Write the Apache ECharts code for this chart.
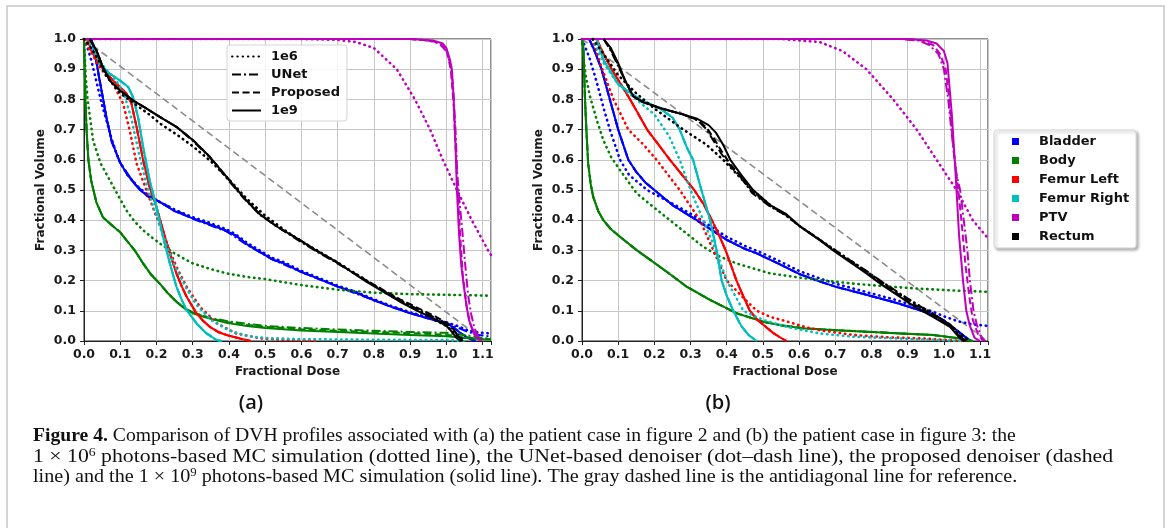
<!DOCTYPE html>
<html><head><meta charset="utf-8">
<script src="https://cdn.jsdelivr.net/npm/echarts@6/dist/echarts.min.js"></script>
<style>html,body{margin:0;padding:0;background:#fff}#c{width:1167px;height:528px}</style>
</head><body><div id="c"></div>
<script>
// ---------- tick labels ----------
const xTickLabels = ['0.0','0.1','0.2','0.3','0.4','0.5','0.6','0.7','0.8','0.9','1.0','1.1'];
const yTickLabels = ['0.0','0.1','0.2','0.3','0.4','0.5','0.6','0.7','0.8','0.9','1.0'];
const organs = ['Bladder','Body','Femur Left','Femur Right','PTV','Rectum'];
const organColors = ['#0000ff','#008000','#ff0000','#00bfbf','#bf00bf','#000000'];
const methods = ['1e6','UNet','Proposed','1e9'];
const panelLabels = ['(a)','(b)'];

// ---------- panel (a) ----------
const a_bladder_1e6 = [[0,1],[0.01,0.97],[0.02,0.93],[0.03,0.88],[0.04,0.83],[0.05,0.78],[0.062,0.73],[0.076,0.67],[0.09,0.62],[0.1,0.59],[0.12,0.55],[0.15,0.51],[0.18,0.48],[0.21,0.46],[0.25,0.435],[0.3,0.41],[0.35,0.39],[0.393,0.37],[0.42,0.352],[0.45,0.325],[0.485,0.3],[0.52,0.275],[0.55,0.262],[0.6,0.232],[0.65,0.208],[0.7,0.183],[0.75,0.163],[0.8,0.138],[0.85,0.115],[0.9,0.095],[0.95,0.078],[1.0,0.062],[1.03,0.05],[1.06,0.035],[1.09,0.028],[1.123,0.025]];
const a_bladder_1e9 = [[0.02,1.0],[0.025,0.98],[0.035,0.92],[0.043,0.865],[0.05,0.82],[0.062,0.74],[0.076,0.665],[0.09,0.62],[0.1,0.59],[0.12,0.55],[0.14,0.52],[0.155,0.5],[0.175,0.48],[0.19,0.472],[0.21,0.46],[0.25,0.43],[0.3,0.406],[0.35,0.385],[0.393,0.365],[0.42,0.348],[0.45,0.32],[0.485,0.295],[0.52,0.27],[0.55,0.258],[0.6,0.228],[0.65,0.205],[0.7,0.18],[0.75,0.16],[0.8,0.135],[0.85,0.112],[0.9,0.092],[0.95,0.074],[1.0,0.058],[1.02,0.045],[1.04,0.025],[1.06,0.01],[1.08,0.0]];
const a_bladder_unet = [[0.02,1.0],[0.03,0.95],[0.043,0.86],[0.062,0.74],[0.076,0.66],[0.1,0.59],[0.14,0.52],[0.175,0.48],[0.21,0.46],[0.3,0.405],[0.393,0.363],[0.45,0.318],[0.52,0.27],[0.6,0.228],[0.7,0.18],[0.8,0.135],[0.9,0.093],[1.0,0.06],[1.03,0.045],[1.06,0.03],[1.09,0.02],[1.123,0.015]];
const a_bladder_prop = a_bladder_1e9;

const a_body_1e6 = [[0,1],[0.005,0.87],[0.01,0.8],[0.025,0.665],[0.045,0.59],[0.071,0.533],[0.095,0.48],[0.117,0.433],[0.14,0.395],[0.163,0.367],[0.185,0.345],[0.209,0.323],[0.25,0.29],[0.3,0.257],[0.35,0.238],[0.393,0.224],[0.45,0.212],[0.5,0.205],[0.6,0.185],[0.7,0.17],[0.8,0.16],[0.9,0.155],[1.0,0.153],[1.123,0.15]];
const a_body_1e9 = [[0,1],[0.002,0.9],[0.004,0.8],[0.007,0.7],[0.012,0.6],[0.02,0.53],[0.034,0.46],[0.052,0.41],[0.08,0.38],[0.1,0.36],[0.117,0.334],[0.14,0.3],[0.163,0.257],[0.185,0.22],[0.209,0.19],[0.23,0.16],[0.255,0.13],[0.28,0.105],[0.3,0.092],[0.33,0.08],[0.36,0.07],[0.393,0.06],[0.45,0.05],[0.5,0.043],[0.6,0.035],[0.7,0.03],[0.8,0.025],[0.9,0.02],[1.0,0.016],[1.05,0.01],[1.1,0.006],[1.123,0.005]];
const a_body_unet = [[0,1],[0.002,0.9],[0.004,0.8],[0.007,0.7],[0.012,0.6],[0.02,0.53],[0.034,0.46],[0.052,0.41],[0.08,0.38],[0.1,0.36],[0.117,0.334],[0.14,0.3],[0.163,0.257],[0.185,0.22],[0.209,0.19],[0.23,0.16],[0.255,0.13],[0.28,0.107],[0.3,0.095],[0.33,0.083],[0.36,0.074],[0.393,0.066],[0.45,0.057],[0.5,0.05],[0.6,0.043],[0.7,0.038],[0.8,0.034],[0.9,0.03],[1.0,0.027],[1.05,0.02],[1.1,0.01],[1.123,0.008]];
const a_body_prop = [[0,1],[0.002,0.9],[0.004,0.8],[0.007,0.7],[0.012,0.6],[0.02,0.53],[0.034,0.46],[0.052,0.41],[0.08,0.38],[0.1,0.36],[0.117,0.334],[0.14,0.3],[0.163,0.257],[0.185,0.22],[0.209,0.19],[0.23,0.16],[0.255,0.13],[0.28,0.106],[0.3,0.094],[0.33,0.082],[0.36,0.072],[0.393,0.063],[0.45,0.053],[0.5,0.047],[0.6,0.039],[0.7,0.034],[0.8,0.03],[0.9,0.026],[1.0,0.021],[1.05,0.013],[1.1,0.007],[1.123,0.006]];

const a_femL_1e6 = [[0,1],[0.011,0.974],[0.043,0.907],[0.08,0.852],[0.108,0.786],[0.126,0.698],[0.145,0.588],[0.172,0.5],[0.2,0.411],[0.228,0.323],[0.255,0.246],[0.283,0.18],[0.32,0.113],[0.366,0.059],[0.42,0.025],[0.485,0.009],[0.55,0.004],[0.65,0.0]];
const a_femL_1e9 = [[0.01,1.0],[0.02,0.963],[0.035,0.93],[0.052,0.902],[0.08,0.863],[0.1,0.84],[0.117,0.82],[0.131,0.786],[0.145,0.709],[0.163,0.6],[0.181,0.51],[0.2,0.444],[0.218,0.367],[0.237,0.29],[0.255,0.224],[0.27,0.18],[0.283,0.147],[0.31,0.092],[0.33,0.065],[0.347,0.047],[0.37,0.03],[0.393,0.02],[0.43,0.008],[0.46,0.0]];
const a_femL_unet = a_femL_1e9;
const a_femL_prop = a_femL_1e9;

const a_femR_1e6 = [[0.01,1.0],[0.03,0.95],[0.06,0.9],[0.09,0.86],[0.11,0.82],[0.13,0.74],[0.15,0.63],[0.17,0.53],[0.19,0.45],[0.21,0.38],[0.23,0.31],[0.25,0.25],[0.28,0.18],[0.31,0.12],[0.35,0.07],[0.4,0.035],[0.45,0.017],[0.5,0.01],[0.6,0.006],[0.8,0.004],[1.0,0.003],[1.05,0.0]];
const a_femR_1e9 = [[0.015,1.0],[0.025,0.985],[0.043,0.918],[0.071,0.885],[0.099,0.863],[0.122,0.841],[0.135,0.808],[0.149,0.742],[0.163,0.643],[0.181,0.533],[0.2,0.444],[0.218,0.345],[0.237,0.257],[0.255,0.18],[0.27,0.135],[0.283,0.103],[0.31,0.059],[0.338,0.025],[0.366,0.003],[0.38,0.0]];
const a_femR_unet = a_femR_1e9;
const a_femR_prop = a_femR_1e9;

const a_ptv_1e6 = [[0,1],[0.6,1.0],[0.7,0.997],[0.75,0.99],[0.8,0.97],[0.863,0.9],[0.913,0.8],[0.955,0.7],[0.99,0.6],[1.029,0.5],[1.07,0.4],[1.115,0.3],[1.123,0.285]];
const a_ptv_1e9 = [[0,1],[0.9,1.0],[0.963,0.995],[0.99,0.985],[1.0,0.97],[1.01,0.93],[1.015,0.9],[1.02,0.8],[1.025,0.65],[1.029,0.5],[1.035,0.35],[1.041,0.25],[1.046,0.2],[1.055,0.12],[1.062,0.07],[1.07,0.045],[1.08,0.02],[1.093,0.0]];
const a_ptv_unet = [[0,1],[0.9,1.0],[0.95,0.995],[0.98,0.985],[1.0,0.96],[1.01,0.92],[1.018,0.85],[1.025,0.7],[1.03,0.55],[1.037,0.45],[1.045,0.35],[1.052,0.25],[1.06,0.15],[1.068,0.09],[1.078,0.04],[1.09,0.01],[1.1,0.0]];
const a_ptv_prop = [[0,1],[0.9,1.0],[0.955,0.995],[0.985,0.985],[1.0,0.965],[1.012,0.9],[1.02,0.78],[1.027,0.6],[1.031,0.5],[1.038,0.35],[1.045,0.22],[1.055,0.12],[1.065,0.06],[1.075,0.025],[1.09,0.0]];

const a_rect_1e6 = [[0,1],[0.02,0.97],[0.04,0.93],[0.06,0.88],[0.08,0.85],[0.1,0.82],[0.14,0.785],[0.18,0.75],[0.21,0.72],[0.26,0.68],[0.3,0.645],[0.35,0.595],[0.4,0.535],[0.45,0.47],[0.5,0.415],[0.55,0.37],[0.6,0.33],[0.7,0.26],[0.8,0.185],[0.9,0.115],[0.96,0.075],[1.0,0.05],[1.03,0.02],[1.05,0.0]];
const a_rect_1e9 = [[0.016,1.0],[0.034,0.963],[0.052,0.907],[0.071,0.863],[0.099,0.83],[0.135,0.797],[0.172,0.77],[0.209,0.742],[0.255,0.709],[0.301,0.665],[0.347,0.61],[0.393,0.544],[0.439,0.477],[0.485,0.42],[0.531,0.38],[0.596,0.334],[0.64,0.3],[0.688,0.268],[0.73,0.235],[0.78,0.196],[0.83,0.16],[0.872,0.13],[0.92,0.1],[0.964,0.075],[1.0,0.05],[1.015,0.03],[1.029,0.009],[1.04,0.0]];
const a_rect_unet = [[0.016,1.0],[0.034,0.963],[0.052,0.907],[0.071,0.863],[0.099,0.83],[0.135,0.797],[0.172,0.77],[0.209,0.742],[0.255,0.709],[0.301,0.662],[0.347,0.608],[0.393,0.54],[0.439,0.475],[0.485,0.418],[0.531,0.38],[0.596,0.33],[0.64,0.298],[0.688,0.265],[0.73,0.235],[0.78,0.198],[0.83,0.163],[0.872,0.134],[0.92,0.106],[0.964,0.08],[1.0,0.056],[1.02,0.035],[1.035,0.012],[1.045,0.0]];
const a_rect_prop = [[0.016,1.0],[0.034,0.963],[0.052,0.907],[0.071,0.863],[0.099,0.83],[0.135,0.797],[0.172,0.77],[0.209,0.742],[0.255,0.709],[0.301,0.665],[0.347,0.61],[0.393,0.544],[0.439,0.477],[0.485,0.42],[0.531,0.38],[0.596,0.334],[0.64,0.3],[0.688,0.268],[0.73,0.236],[0.78,0.2],[0.83,0.166],[0.872,0.138],[0.92,0.11],[0.964,0.085],[1.0,0.06],[1.02,0.038],[1.035,0.013],[1.045,0.0]];

const a_diag = [[0,1],[1.105,0]];

// ---------- panel (b) ----------
const b_bladder_1e6 = [[0,1],[0.02,0.94],[0.04,0.86],[0.06,0.77],[0.077,0.7],[0.105,0.6],[0.13,0.55],[0.18,0.5],[0.25,0.455],[0.317,0.41],[0.4,0.345],[0.45,0.315],[0.5,0.29],[0.55,0.262],[0.6,0.232],[0.65,0.21],[0.7,0.19],[0.786,0.162],[0.87,0.135],[0.97,0.097],[1.0,0.082],[1.04,0.065],[1.08,0.055],[1.122,0.05]];
const b_bladder_1e9 = [[0.02,1.0],[0.035,0.96],[0.054,0.9],[0.077,0.8],[0.1,0.7],[0.128,0.6],[0.15,0.56],[0.175,0.525],[0.2,0.5],[0.25,0.45],[0.317,0.4],[0.4,0.335],[0.45,0.305],[0.483,0.29],[0.54,0.258],[0.6,0.222],[0.65,0.2],[0.7,0.18],[0.786,0.153],[0.87,0.126],[0.97,0.088],[1.0,0.068],[1.035,0.036],[1.063,0.01],[1.075,0.0]];
const b_bladder_unet = b_bladder_1e9;
const b_bladder_prop = b_bladder_1e9;

const b_body_1e6 = [[0,1],[0.005,0.93],[0.01,0.88],[0.022,0.81],[0.041,0.731],[0.059,0.665],[0.08,0.61],[0.105,0.566],[0.151,0.489],[0.197,0.444],[0.243,0.4],[0.289,0.356],[0.335,0.312],[0.38,0.28],[0.427,0.257],[0.519,0.224],[0.6,0.21],[0.657,0.202],[0.75,0.19],[0.85,0.18],[0.95,0.172],[1.05,0.166],[1.122,0.163]];
const b_body_1e9 = [[0,1],[0.004,0.97],[0.008,0.81],[0.012,0.7],[0.017,0.588],[0.024,0.52],[0.031,0.477],[0.045,0.43],[0.059,0.4],[0.08,0.37],[0.105,0.345],[0.151,0.301],[0.215,0.246],[0.25,0.215],[0.289,0.18],[0.354,0.136],[0.427,0.092],[0.5,0.064],[0.55,0.052],[0.611,0.042],[0.7,0.036],[0.786,0.031],[0.88,0.025],[0.97,0.02],[1.04,0.009],[1.08,0.0]];
const b_body_unet = b_body_1e9;
const b_body_prop = b_body_1e9;

const b_femL_1e6 = [[0.03,1.0],[0.05,0.92],[0.087,0.8],[0.128,0.7],[0.17,0.65],[0.206,0.6],[0.27,0.5],[0.326,0.4],[0.363,0.3],[0.4,0.2],[0.44,0.15],[0.483,0.1],[0.52,0.08],[0.565,0.065],[0.62,0.045],[0.66,0.035],[0.75,0.02],[0.85,0.012],[0.95,0.008],[1.05,0.0]];
const b_femL_1e9 = [[0.04,1.0],[0.06,0.95],[0.082,0.9],[0.133,0.8],[0.18,0.7],[0.243,0.6],[0.28,0.545],[0.31,0.5],[0.335,0.455],[0.357,0.405],[0.378,0.352],[0.397,0.3],[0.412,0.25],[0.427,0.2],[0.445,0.15],[0.464,0.1],[0.485,0.07],[0.51,0.045],[0.53,0.025],[0.55,0.01],[0.565,0.0]];
const b_femL_unet = b_femL_1e9;
const b_femL_prop = b_femL_1e9;

const b_femR_1e6 = [[0.03,1.0],[0.06,0.92],[0.1,0.85],[0.15,0.8],[0.2,0.75],[0.24,0.68],[0.27,0.6],[0.3,0.5],[0.335,0.4],[0.37,0.3],[0.4,0.2],[0.446,0.1],[0.5,0.07],[0.565,0.047],[0.657,0.025],[0.75,0.014],[0.9,0.007],[1.05,0.0]];
const b_femR_1e9 = [[0.04,1.0],[0.06,0.93],[0.1,0.85],[0.16,0.8],[0.215,0.77],[0.25,0.74],[0.27,0.7],[0.29,0.64],[0.307,0.6],[0.33,0.5],[0.354,0.4],[0.372,0.3],[0.386,0.2],[0.4,0.15],[0.418,0.1],[0.44,0.05],[0.46,0.02],[0.483,0.0]];
const b_femR_unet = b_femR_1e9;
const b_femR_prop = b_femR_1e9;

const b_ptv_1e6 = [[0,1],[0.55,1.0],[0.657,0.99],[0.72,0.96],[0.786,0.9],[0.86,0.8],[0.925,0.7],[0.98,0.6],[1.035,0.5],[1.08,0.4],[1.122,0.34]];
const b_ptv_1e9 = [[0,1],[0.9,1.0],[0.952,0.995],[0.98,0.985],[1.0,0.96],[1.01,0.92],[1.015,0.85],[1.022,0.75],[1.03,0.6],[1.035,0.5],[1.042,0.35],[1.053,0.2],[1.062,0.1],[1.072,0.05],[1.085,0.01],[1.1,0.0]];
const b_ptv_unet = [[0,1],[0.88,1.0],[0.93,0.995],[0.96,0.98],[0.985,0.95],[1.0,0.9],[1.012,0.8],[1.025,0.65],[1.035,0.55],[1.045,0.5],[1.055,0.4],[1.065,0.3],[1.072,0.2],[1.082,0.1],[1.092,0.05],[1.105,0.01],[1.115,0.0]];
const b_ptv_prop = [[0,1],[0.89,1.0],[0.94,0.995],[0.97,0.98],[0.99,0.95],[1.005,0.9],[1.015,0.8],[1.028,0.62],[1.04,0.5],[1.05,0.38],[1.06,0.25],[1.07,0.15],[1.08,0.07],[1.095,0.02],[1.11,0.0]];

const b_rect_1e6 = [[0.03,1.0],[0.06,0.95],[0.1,0.88],[0.15,0.82],[0.2,0.77],[0.28,0.7],[0.344,0.65],[0.39,0.6],[0.43,0.55],[0.47,0.5],[0.52,0.45],[0.565,0.415],[0.602,0.38],[0.694,0.305],[0.786,0.23],[0.878,0.155],[0.97,0.09],[1.02,0.05],[1.05,0.02],[1.07,0.0]];
const b_rect_1e9 = [[0.06,1.0],[0.08,0.97],[0.1,0.92],[0.12,0.86],[0.142,0.81],[0.17,0.79],[0.22,0.77],[0.28,0.75],[0.32,0.735],[0.35,0.715],[0.37,0.69],[0.39,0.65],[0.41,0.6],[0.44,0.55],[0.473,0.5],[0.52,0.45],[0.565,0.42],[0.602,0.38],[0.65,0.34],[0.694,0.3],[0.74,0.262],[0.786,0.224],[0.83,0.185],[0.878,0.147],[0.92,0.113],[0.97,0.08],[1.017,0.047],[1.044,0.01],[1.055,0.0]];
const b_rect_unet = [[0.06,1.0],[0.08,0.96],[0.1,0.91],[0.12,0.86],[0.142,0.81],[0.17,0.79],[0.22,0.77],[0.28,0.75],[0.32,0.73],[0.345,0.7],[0.365,0.66],[0.385,0.62],[0.41,0.58],[0.44,0.54],[0.47,0.49],[0.52,0.445],[0.565,0.415],[0.602,0.38],[0.65,0.34],[0.694,0.305],[0.74,0.268],[0.786,0.232],[0.83,0.195],[0.878,0.158],[0.92,0.125],[0.97,0.09],[1.017,0.055],[1.044,0.018],[1.06,0.0]];
const b_rect_prop = [[0.06,1.0],[0.08,0.965],[0.1,0.915],[0.12,0.86],[0.142,0.81],[0.17,0.79],[0.22,0.77],[0.28,0.75],[0.32,0.732],[0.345,0.705],[0.365,0.67],[0.385,0.63],[0.41,0.585],[0.44,0.545],[0.47,0.495],[0.52,0.447],[0.565,0.417],[0.602,0.38],[0.65,0.342],[0.694,0.303],[0.74,0.265],[0.786,0.228],[0.83,0.19],[0.878,0.152],[0.92,0.12],[0.97,0.085],[1.017,0.05],[1.044,0.014],[1.058,0.0]];

const b_diag = [[0,1],[1.12,0]];

// ---------- assemble tables ----------
const panelCurves = [
  [[a_bladder_1e6,a_bladder_unet,a_bladder_prop,a_bladder_1e9],
   [a_body_1e6,a_body_unet,a_body_prop,a_body_1e9],
   [a_femL_1e6,a_femL_unet,a_femL_prop,a_femL_1e9],
   [a_femR_1e6,a_femR_unet,a_femR_prop,a_femR_1e9],
   [a_ptv_1e6,a_ptv_unet,a_ptv_prop,a_ptv_1e9],
   [a_rect_1e6,a_rect_unet,a_rect_prop,a_rect_1e9]],
  [[b_bladder_1e6,b_bladder_unet,b_bladder_prop,b_bladder_1e9],
   [b_body_1e6,b_body_unet,b_body_prop,b_body_1e9],
   [b_femL_1e6,b_femL_unet,b_femL_prop,b_femL_1e9],
   [b_femR_1e6,b_femR_unet,b_femR_prop,b_femR_1e9],
   [b_ptv_1e6,b_ptv_unet,b_ptv_prop,b_ptv_1e9],
   [b_rect_1e6,b_rect_unet,b_rect_prop,b_rect_1e9]]
];
const diagonals = [a_diag, b_diag];
const xMax = [1.123, 1.122];

const methodStyle = {
  '1e6': {type:[0.5,4.8], width:2.6, cap:'round'},
  'UNet': {type:[9,3,2,3], width:2, cap:'butt'},
  'Proposed': {type:[7,3.5], width:2, cap:'butt'},
  '1e9': {type:'solid', width:2, cap:'butt'}
};

const FONT = 'DejaVu Sans';
const series = [];
[0,1].forEach(g => {
  series.push({type:'line', name:'diag'+g, xAxisIndex:g, yAxisIndex:g, data:diagonals[g], symbol:'none', silent:true, z:1,
    lineStyle:{color:'#8c8c8c', width:1.6, type:[7,4]}});
  organs.forEach((o, oi) => {
    methods.forEach((m, mi) => {
      const st = methodStyle[m];
      series.push({type:'line', name: panelLabels[g]+' '+o+' '+m, xAxisIndex:g, yAxisIndex:g,
        data: panelCurves[g][oi][mi], symbol:'none', showSymbol:false, smooth:false, silent:true, z:2,
        lineStyle:{color:organColors[oi], width:st.width, type:st.type, cap:st.cap, join:'round'}, itemStyle:{color:organColors[oi]}});
    });
  });
});
// legend-only series
methods.forEach(m => {
  const st = methodStyle[m];
  series.push({type:'line', name:m, xAxisIndex:0, yAxisIndex:0, data:[], symbol:'none',
    lineStyle:{color:'#000', width:st.width, type:st.type, cap:st.cap}, itemStyle:{color:'#000'}});
});
organs.forEach((o, oi) => {
  series.push({type:'line', name:o, xAxisIndex:0, yAxisIndex:0, data:[], symbol:'none',
    lineStyle:{color:organColors[oi]}, itemStyle:{color:organColors[oi]}});
});

function tickFmt(labels){
  return v => { const k = Math.round(v*10); return (Math.abs(v*10-k) < 1e-6 && k < labels.length) ? labels[k] : ''; };
}
const lblStyle = {fontFamily:FONT, fontWeight:'bold', fontSize:12.5, color:'#1a1a1a'};
const nameStyle = {fontFamily:FONT, fontWeight:'bold', fontSize:12, color:'#1a1a1a'};

const grids = [
  {left:84, top:39, width:407, height:302, show:true, borderColor:'#222', borderWidth:1},
  {left:582, top:39, width:406, height:302, show:true, borderColor:'#222', borderWidth:1}
];
const xAxes = [0,1].map(g => ({type:'value', gridIndex:g, min:0, max:xMax[g], interval:0.1,
  axisLine:{show:true, onZero:false, lineStyle:{color:'#222', width:1}},
  axisTick:{show:true, length:4, lineStyle:{color:'#222'}},
  axisLabel:Object.assign({formatter:tickFmt(xTickLabels), margin:7}, lblStyle),
  splitLine:{show:true, lineStyle:{color:'#c6c6c6', width:1}},
  name:'Fractional Dose', nameLocation:'middle', nameGap:24, nameTextStyle:nameStyle}));
const yAxes = [0,1].map(g => ({type:'value', gridIndex:g, min:0, max:1, interval:0.1,
  axisLine:{show:true, onZero:false, lineStyle:{color:'#222', width:1}},
  axisTick:{show:true, length:4, lineStyle:{color:'#222'}},
  axisLabel:Object.assign({formatter:tickFmt(yTickLabels), margin:8}, lblStyle),
  splitLine:{show:true, lineStyle:{color:'#c6c6c6', width:1}},
  name:'Fractional Volume', nameLocation:'middle', nameGap:37, nameTextStyle:nameStyle}));

const capFont = '"Liberation Serif", serif';
const capSize = 19;
const capRich = {
  b:{fontWeight:'bold', fontSize:capSize, fontFamily:capFont, color:'#111', lineHeight:21},
  l:{fontSize:capSize, fontFamily:capFont, color:'#3a8fc9', lineHeight:21},
  s:{fontSize:12, fontFamily:capFont, color:'#111', verticalAlign:'top', lineHeight:21},
  n:{fontSize:capSize, fontFamily:capFont, color:'#111', lineHeight:21}
};
const capLines = [
  '{b|Figure 4.}{n| Comparison of DVH profiles associated with (a) the patient case in figure }{l|2}{n| and (b) the patient case in figure }{l|3}{n|: the}',
  '{n|1 × 10}{s|6}{n| photons-based MC simulation (dotted line), the UNet-based denoiser (dot–dash line), the proposed denoiser (dashed}',
  '{n|line) and the 1 × 10}{s|9}{n| photons-based MC simulation (solid line). The gray dashed line is the antidiagonal line for reference.}'
];
const capY = [436, 457, 477];
const capScale = [1.034, 1.145, 1.06];

const graphic = [
  {type:'rect', shape:{x:7, y:6, width:1157, height:560}, style:{fill:'none', stroke:'#c8c8c8', lineWidth:1.5}, silent:true},
  {type:'text', x:251, y:403, style:{text:panelLabels[0], font:'600 20px "Open Sans"', fill:'#111', align:'center', verticalAlign:'middle', textAlign:'center', textVerticalAlign:'middle'}},
  {type:'text', x:718, y:403, style:{text:panelLabels[1], font:'600 20px "Open Sans"', fill:'#111', align:'center', verticalAlign:'middle', textAlign:'center', textVerticalAlign:'middle'}}
];
capLines.forEach((t, i) => {
  graphic.push({type:'text', x:33, y:capY[i], scaleX:capScale[i], style:{text:t, rich:capRich, font:capSize+'px "Liberation Serif"', fill:'#111', align:'left', verticalAlign:'middle', textAlign:'left', textVerticalAlign:'middle'}});
});

const option = {
  backgroundColor:'#fff',
  animation:false,
  grid:grids, xAxis:xAxes, yAxis:yAxes,
  legend:[
    {data:methods, orient:'vertical', left:227, top:45, itemWidth:29, itemHeight:14, itemGap:5,
     padding:[5,7,4,4], selectedMode:false, backgroundColor:'rgba(255,255,255,0.85)', borderColor:'#d4d4d4', borderWidth:1, borderRadius:3,
     itemStyle:{color:'transparent', borderWidth:0},
     textStyle:{fontFamily:FONT, fontWeight:'bold', fontSize:13, color:'#111', padding:[0,0,0,5]}},
    {data:organs, orient:'vertical', left:994, top:130, icon:'rect', itemWidth:7, itemHeight:7, itemGap:6,
     padding:[5,7,5,18], selectedMode:false, backgroundColor:'#fff', borderColor:'#d4d4d4', borderWidth:1, borderRadius:3,
     shadowColor:'rgba(0,0,0,0.3)', shadowBlur:3, shadowOffsetX:2, shadowOffsetY:2,
     textStyle:{fontFamily:FONT, fontWeight:'bold', fontSize:13, color:'#111', padding:[0,0,0,15]}}
  ],
  series:series,
  graphic:graphic
};
const chart = echarts.init(document.getElementById('c'), null, {renderer:'canvas'});
chart.setOption(option);
</script></body></html>
